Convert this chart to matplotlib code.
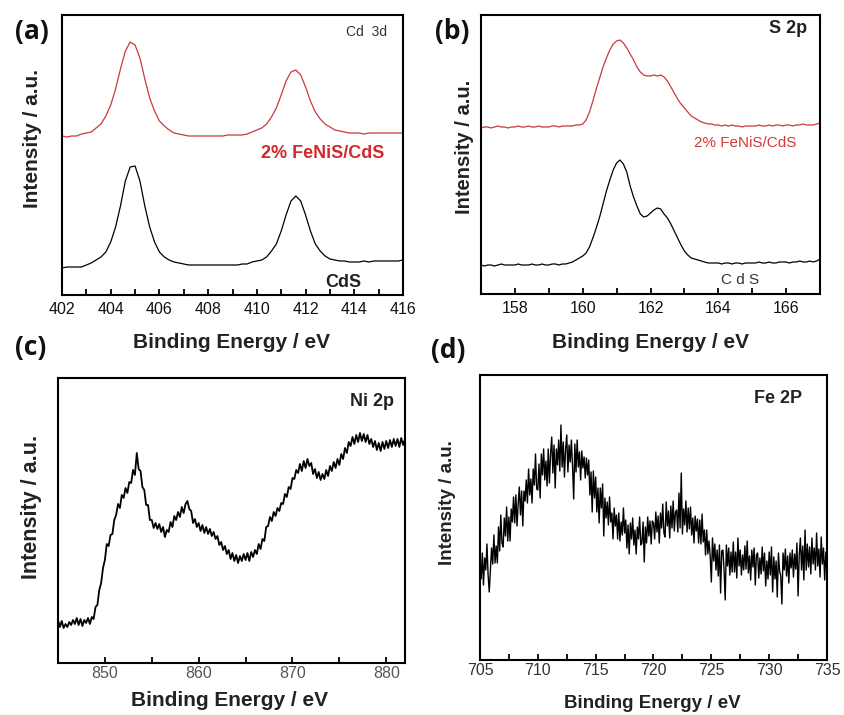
import matplotlib
matplotlib.use('Agg')
import matplotlib.pyplot as plt
from matplotlib.ticker import MultipleLocator
import numpy as np

plt.rcParams['font.family'] = ['Liberation Sans', 'DejaVu Sans']

# ---- (a) Cd 3d, 402-416 eV, step 0.2 ----
cd_fenis = [159, 158, 159, 159, 161, 162, 163, 167, 171, 179,
            190, 206, 226, 244, 253, 250, 237, 216, 197, 184,
            174, 169, 165, 162, 161, 160, 159, 159, 159, 159,
            159, 159, 159, 159, 160, 160, 160, 160, 161, 163,
            165, 167, 171, 178, 187, 200, 214, 223, 225, 220,
            208, 194, 183, 176, 171, 168, 165, 164, 163, 162,
            162, 162, 161, 162, 162, 162, 162, 162, 162, 162, 162]
cd_cds = [27, 28, 28, 28, 28, 30, 32, 35, 38, 43,
          53, 68, 89, 114, 128, 129, 114, 89, 68, 53,
          43, 38, 35, 33, 32, 31, 30, 30, 30, 30,
          30, 30, 30, 30, 30, 30, 30, 31, 31, 33,
          34, 35, 38, 44, 51, 64, 80, 94, 99, 94,
          80, 64, 51, 44, 39, 36, 35, 34, 34, 33,
          33, 33, 34, 33, 34, 34, 34, 34, 34, 34, 35]

# ---- (b) S 2p, 157-167 eV, step 0.1 ----
s_fenis = [166, 167, 167, 166, 167, 168, 167, 167, 166, 167,
           167, 168, 167, 167, 168, 167, 167, 168, 167, 167,
           167, 168, 168, 167, 168, 168, 168, 168, 169, 169,
           170, 174, 182, 193, 205, 216, 227, 236, 244, 250,
           253, 254, 251, 246, 240, 234, 227, 222, 219, 218,
           218, 219, 218, 219, 217, 213, 207, 201, 195, 190,
           186, 182, 178, 176, 174, 172, 171, 170, 170, 169,
           169, 168, 169, 168, 169, 168, 168, 167, 168, 168,
           168, 168, 169, 168, 168, 169, 168, 169, 169, 168,
           169, 169, 168, 169, 169, 170, 169, 169, 169, 170, 171]
s_cds = [29, 28, 29, 29, 28, 29, 30, 29, 29, 29,
         29, 30, 29, 29, 29, 30, 29, 29, 30, 29,
         29, 30, 30, 29, 30, 30, 31, 32, 34, 36,
         38, 41, 47, 56, 66, 77, 90, 103, 114, 124,
         131, 134, 130, 122, 108, 97, 88, 80, 77, 78,
         81, 84, 86, 85, 80, 76, 70, 63, 56, 49,
         43, 39, 36, 35, 34, 33, 32, 31, 31, 31,
         31, 30, 31, 31, 30, 31, 31, 30, 31, 31,
         31, 31, 32, 31, 31, 32, 31, 31, 32, 32,
         32, 31, 32, 32, 33, 32, 32, 33, 32, 33, 35]

# ---- (c) Ni 2p, 845-882 eV, step 0.2 ----
ni = [43, 36, 42, 35, 39, 36, 41, 38, 43, 39,
      45, 38, 44, 37, 43, 40, 45, 39, 46, 44,
      56, 58, 73, 80, 95, 103, 119, 117, 128, 129,
      143, 148, 159, 155, 168, 165, 175, 170, 181, 180,
      193, 188, 210, 194, 192, 176, 173, 158, 158, 143,
      143, 135, 140, 134, 139, 131, 136, 126, 133, 131,
      141, 136, 147, 143, 151, 146, 156, 150, 159, 162,
      154, 152, 140, 144, 136, 140, 132, 138, 130, 136,
      129, 134, 127, 131, 124, 127, 118, 121, 113, 117,
      109, 113, 104, 110, 102, 108, 100, 107, 102, 109,
      103, 110, 102, 111, 106, 113, 109, 119, 114, 124,
      122, 136, 137, 146, 142, 151, 147, 155, 152, 160,
      159, 169, 166, 176, 174, 185, 184, 193, 190, 199,
      192, 202, 195, 204, 197, 200, 189, 194, 185, 191,
      183, 189, 184, 193, 187, 197, 192, 201, 195, 204,
      198, 209, 204, 215, 210, 221, 217, 226, 219, 228,
      221, 230, 222, 229, 221, 228, 219, 224, 216, 222,
      213, 220, 212, 221, 214, 222, 215, 223, 216, 224,
      217, 224, 216, 225, 218, 224]

# ---- (d) Fe 2p, 705-735 eV, step 0.1 ----
fe = [95, 81, 107, 75, 102, 90, 116, 85, 68, 91,
      112, 96, 125, 97, 114, 97, 133, 109, 145, 117,
      113, 142, 124, 153, 119, 143, 119, 151, 138, 163,
      137, 165, 134, 156, 173, 145, 169, 134, 169, 159,
      180, 157, 191, 165, 181, 157, 191, 175, 206, 171,
      170, 196, 162, 206, 185, 211, 180, 199, 174, 211,
      177, 206, 223, 187, 215, 172, 211, 195, 220, 189,
      235, 193, 218, 183, 211, 225, 188, 215, 198, 220,
      194, 161, 216, 188, 220, 193, 208, 180, 209, 192,
      203, 182, 202, 185, 200, 165, 188, 148, 189, 162,
      183, 148, 172, 137, 172, 152, 176, 124, 162, 142,
      158, 135, 163, 138, 147, 121, 152, 134, 145, 121,
      147, 119, 138, 125, 152, 127, 140, 112, 135, 106,
      137, 121, 142, 115, 130, 106, 133, 121, 143, 115,
      117, 138, 98, 133, 117, 143, 124, 139, 116, 139,
      137, 121, 148, 128, 144, 117, 147, 132, 156, 127,
      123, 158, 134, 149, 122, 154, 132, 159, 129, 148,
      150, 128, 167, 132, 187, 126, 151, 135, 159, 128,
      152, 131, 153, 125, 142, 117, 144, 129, 141, 117,
      140, 116, 146, 118, 130, 105, 130, 106, 119, 104,
      78, 122, 99, 116, 90, 110, 84, 115, 67, 109,
      110, 90, 60, 115, 94, 112, 85, 108, 88, 118,
      88, 108, 82, 122, 94, 110, 85, 105, 90, 114,
      91, 119, 87, 104, 80, 110, 93, 112, 75, 105,
      107, 82, 102, 86, 113, 89, 107, 74, 99, 81,
      108, 85, 113, 68, 103, 81, 99, 63, 107, 89,
      84, 56, 107, 90, 111, 84, 104, 77, 107, 92,
      110, 83, 106, 91, 117, 64, 105, 122, 90, 114,
      80, 130, 90, 116, 93, 113, 86, 122, 96, 112,
      90, 127, 94, 111, 83, 123, 96, 112, 80, 108, 96]

e_a = np.linspace(402, 416, len(cd_cds))
e_b = np.linspace(157, 167, len(s_cds))
e_c = np.linspace(845, 882, len(ni))
e_d = np.linspace(705, 735, len(fe))

RED = '#c8393c'
W, H = 845, 715


def box(l, t, r, b):
    return [l / W, 1 - b / H, (r - l) / W, (b - t) / H]


def fx(px):
    return px / W


def fy(py):
    return 1 - py / H


fig = plt.figure(figsize=(8.45, 7.15), dpi=100)

ax_a = fig.add_axes(box(62, 15, 403, 295))
ax_b = fig.add_axes(box(481, 15, 820, 294))
ax_c = fig.add_axes(box(58, 378, 405, 663))
ax_d = fig.add_axes(box(480, 375, 827, 660))


def style(ax, xlim, ytop, major, minor, tcolor, tsize, pad):
    for s in ax.spines.values():
        s.set_linewidth(1.5)
    ax.set_xlim(*xlim)
    ax.set_ylim(0, ytop)
    ax.set_yticks([])
    ax.xaxis.set_major_locator(MultipleLocator(major))
    ax.xaxis.set_minor_locator(MultipleLocator(minor))
    ax.tick_params(axis='x', which='major', direction='in', length=4, width=1.3,
                   labelsize=tsize, labelcolor=tcolor, pad=pad)
    ax.tick_params(axis='x', which='minor', direction='in', length=4, width=1.3)


ax_a.plot(e_a, cd_fenis, color=RED, lw=0.9)
ax_a.plot(e_a, cd_cds, color='black', lw=0.9)
style(ax_a, (402, 416), 280, 2, 1, '#111111', 11.5, 5)
ax_a.text(0.894, 0.939, 'Cd  3d', transform=ax_a.transAxes, ha='center', va='center',
          fontsize=10, color='#333333')
ax_a.text(0.765, 0.507, '2% FeNiS/CdS', transform=ax_a.transAxes, ha='center', va='center',
          fontsize=13, fontweight='bold', color='#d02a2a')
ax_a.text(0.824, 0.045, 'CdS', transform=ax_a.transAxes, ha='center', va='center',
          fontsize=13, fontweight='bold', color='#222222')

ax_b.plot(e_b, s_fenis, color=RED, lw=0.9)
ax_b.plot(e_b, s_cds, color='black', lw=0.9)
style(ax_b, (157, 167), 279, 2, 1, '#111111', 11.5, 5)
ax_b.text(0.906, 0.95, 'S 2p', transform=ax_b.transAxes, ha='center', va='center',
          fontsize=13, fontweight='bold', color='#222222')
ax_b.text(0.779, 0.541, '2% FeNiS/CdS', transform=ax_b.transAxes, ha='center', va='center',
          fontsize=11, color='#d03a3a')
ax_b.text(0.764, 0.05, 'C d S', transform=ax_b.transAxes, ha='center', va='center',
          fontsize=11, color='#333333')

ax_c.plot(e_c, ni, color='black', lw=1.3)
style(ax_c, (845, 882), 285, 10, 5, '#555555', 11.5, 2)
ax_c.text(0.905, 0.916, 'Ni 2p', transform=ax_c.transAxes, ha='center', va='center',
          fontsize=13, fontweight='bold', color='#222222')

ax_d.plot(e_d, fe, color='black', lw=1.0)
style(ax_d, (705, 735), 285, 5, 2.5, '#333333', 11.5, 2)
ax_d.text(0.859, 0.919, 'Fe 2P', transform=ax_d.transAxes, ha='center', va='center',
          fontsize=13, fontweight='bold', color='#222222')

# axis titles
lab = dict(ha='center', va='center', fontweight='bold', color='#222222')
fig.text(fx(232), fy(342), 'Binding Energy / eV', fontsize=15, **lab)
fig.text(fx(650), fy(342), 'Binding Energy / eV', fontsize=15, **lab)
fig.text(fx(230), fy(700), 'Binding Energy / eV', fontsize=15, **lab)
fig.text(fx(652), fy(704), 'Binding Energy / eV', fontsize=13.5, **lab)
fig.text(fx(33), fy(139), 'Intensity / a.u.', fontsize=15, rotation=90, **lab)
fig.text(fx(465), fy(147), 'Intensity / a.u.', fontsize=14.5, rotation=90, **lab)
fig.text(fx(32), fy(507), 'Intensity / a.u.', fontsize=15.5, rotation=90, **lab)
fig.text(fx(448), fy(503), 'Intensity / a.u.', fontsize=13.5, rotation=90, **lab)

# panel letters
pl = dict(ha='center', va='center', fontweight='bold', fontsize=19, color='#111111',
          family=['Open Sans', 'DejaVu Sans'])
fig.text(fx(32), fy(31), '(a)', **pl)
fig.text(fx(452), fy(31), '(b)', **pl)
fig.text(fx(31), fy(348), '(c)', **pl)
fig.text(fx(448), fy(350), '(d)', **pl)

fig.savefig('out.png', dpi=100)
